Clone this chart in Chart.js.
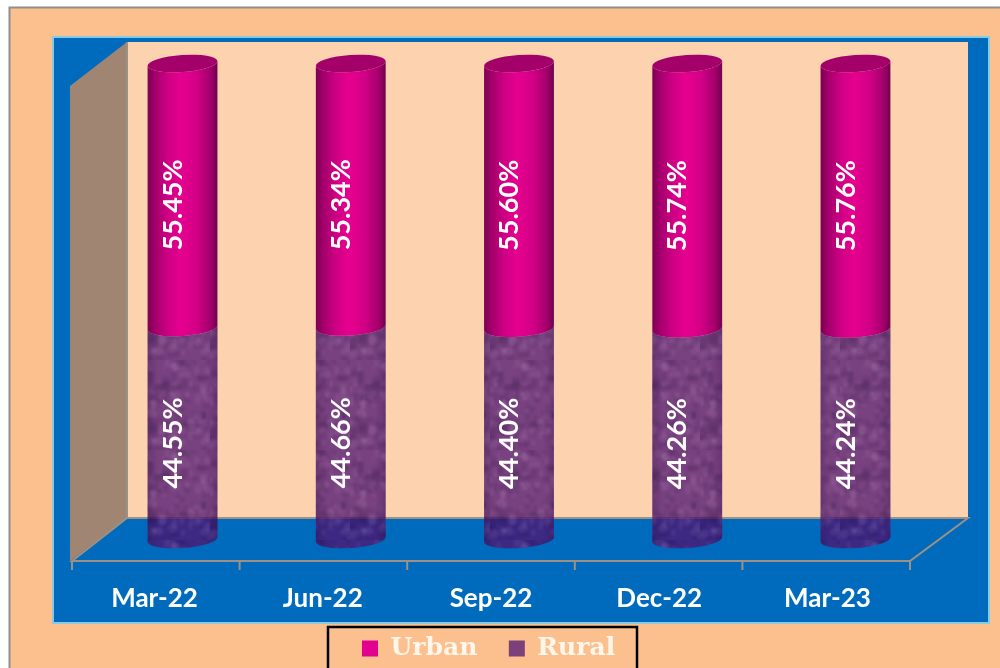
<!DOCTYPE html>
<html lang="en">
<head>
<meta charset="UTF-8">
<title>Urban / Rural share</title>
<script src="https://cdn.jsdelivr.net/npm/chart.js"></script>
<style>
    html, body { margin: 0; padding: 0; background: #fff; overflow: hidden; }
    canvas { display: block; }
</style>
</head>
<body>
<canvas id="grafico" width="1000" height="668"></canvas>

<script>
// data
const categorias = ['Mar-22', 'Jun-22', 'Sep-22', 'Dec-22', 'Mar-23'];
const urban = [55.45, 55.34, 55.60, 55.74, 55.76];
const rural = [44.55, 44.66, 44.40, 44.26, 44.24];

const corPagina = '#fbc08e';
const corAzul = '#006bbd';
const corParede = '#fdd2ae';
const corLateral = '#a08672';
const corLinha = '#9c9184';
const corBorda = '#85cbe4';
const RAIO_Y = 8.5;
const INCLINA = -4 * Math.PI / 180;

// mottled texture for the rural cylinders
function criarTextura(ctx) {
    const c = document.createElement('canvas');
    c.width = 70;
    c.height = 90;
    const t = c.getContext('2d');
    t.filter = 'blur(1.5px)';
    let s = 17;
    const prox = () => (s = (s * 137 + 59) % 1009) / 1009;
    for (let i = 0; i < 260; i++) {
        t.fillStyle = i % 2 ? 'rgba(255,220,255,0.04)' : 'rgba(20,0,50,0.05)';
        t.beginPath();
        t.ellipse(prox() * 70, prox() * 90, 2 + prox() * 4, 2 + prox() * 4, 0, 0, Math.PI * 2);
        t.fill();
    }
    return ctx.createPattern(c, 'repeat');
}

// body of a cylinder: front arc at the base, front arc at the top
function corpo(ctx, b) {
    const rx = b.width / 2;
    ctx.beginPath();
    ctx.ellipse(b.x, b.base, rx, RAIO_Y, INCLINA, 0, Math.PI);
    ctx.ellipse(b.x, b.y, rx, RAIO_Y, INCLINA, Math.PI, 0, true);
    ctx.closePath();
}

function sombra(ctx, x, rx, stops) {
    const g = ctx.createLinearGradient(x - rx, 0, x + rx, 0);
    stops.forEach(p => g.addColorStop(p[0], p[1]));
    return g;
}

const cilindros = {
    id: 'cilindros',
    beforeDatasetDraw(chart, args) {
        const ctx = chart.ctx;
        const eRural = chart.data.datasets[args.index].label === 'Rural';
        if (!chart.$textura) chart.$textura = criarTextura(ctx);
        args.meta.data.forEach(b => {
            const rx = b.width / 2;
            ctx.save();
            corpo(ctx, b);
            if (eRural) {
                ctx.fillStyle = b.options.backgroundColor;
                ctx.fill();
                ctx.fillStyle = chart.$textura;
                ctx.fill();
                ctx.fillStyle = sombra(ctx, b.x, rx, [[0, 'rgba(30,0,50,0.22)'], [0.15, 'rgba(30,0,50,0.05)'], [0.85, 'rgba(30,0,50,0.05)'], [1, 'rgba(30,0,50,0.22)']]);
                ctx.fill();
            } else {
                ctx.fillStyle = sombra(ctx, b.x, rx, [[0, '#7c0053'], [0.13, '#a9006f'], [0.3, '#d00085'], [0.48, '#e6008f'], [0.7, '#d20086'], [0.9, '#a3006c'], [1, '#6f004b']]);
                ctx.fill();
                // tampa
                ctx.beginPath();
                ctx.ellipse(b.x, b.y, rx, RAIO_Y, INCLINA, 0, Math.PI * 2);
                ctx.fillStyle = '#a4006a';
                ctx.fill();
            }
            ctx.restore();
        });
        return false;
    },
    afterDatasetsDraw(chart) {
        const ctx = chart.ctx;
        ctx.save();
        ctx.fillStyle = '#fff';
        ctx.font = 'bold 27px Lato';
        ctx.textAlign = 'center';
        ctx.textBaseline = 'middle';
        chart.data.datasets.forEach((ds, i) => {
            chart.getDatasetMeta(i).data.forEach((b, j) => {
                ctx.save();
                ctx.translate(b.x - 9.5, (b.y + b.base) / 2 + 9.5);
                ctx.rotate(-Math.PI / 2);
                ctx.fillText(ds.data[j].toFixed(2) + '%', 0, 0);
                ctx.restore();
            });
        });
        ctx.restore();
    }
};

// page, panel and 3D walls behind the plot
const cenario = {
    id: 'cenario',
    afterLayout(chart) {
        chart.legend.left = 330.5;
        chart.legend.top += 3;
        // the tick labels sit lower than the axis box, keep them out of its clip
        chart.scales.x.bottom = 622;
    },
    beforeDraw(chart) {
        const ctx = chart.ctx;
        const a = chart.chartArea;
        const paredeTopo = 42, paredeFim = a.bottom - 21.5, frente = a.bottom + 21.5;
        const paredeEsq = 127, paredeDir = 968, frenteEsq = 72, frenteDir = 910;

        ctx.save();
        ctx.fillStyle = '#fff';
        ctx.fillRect(0, 0, chart.width, chart.height);

        ctx.fillStyle = corPagina;
        ctx.fillRect(9, 7, chart.width - 9, chart.height - 7);
        ctx.strokeStyle = '#8e8e8e';
        ctx.lineWidth = 2;
        ctx.beginPath();
        ctx.moveTo(9.5, chart.height);
        ctx.lineTo(9.5, 7.5);
        ctx.lineTo(chart.width, 7.5);
        ctx.stroke();

        ctx.fillStyle = corAzul;
        ctx.fillRect(53, 37, 936, 586);
        ctx.strokeStyle = corBorda;
        ctx.strokeRect(53, 37, 936, 586);

        ctx.fillStyle = corParede;
        ctx.fillRect(paredeEsq, paredeTopo, paredeDir - paredeEsq, paredeFim - paredeTopo);

        ctx.fillStyle = corLateral;
        ctx.beginPath();
        ctx.moveTo(paredeEsq, paredeTopo);
        ctx.lineTo(70, 86);
        ctx.lineTo(70, frente);
        ctx.lineTo(paredeEsq, paredeFim);
        ctx.closePath();
        ctx.fill();

        ctx.strokeStyle = corLinha;
        ctx.beginPath();
        ctx.moveTo(paredeEsq, paredeTopo);
        ctx.lineTo(paredeEsq, paredeFim);
        ctx.lineTo(paredeDir, paredeFim);
        ctx.lineTo(frenteDir, frente);
        ctx.lineTo(frenteEsq, frente);
        ctx.lineTo(paredeEsq, paredeFim);
        const n = categorias.length;
        for (let i = 0; i <= n; i++) {
            const x = frenteEsq + (frenteDir - frenteEsq) * i / n;
            ctx.moveTo(x, frente);
            ctx.lineTo(x, frente + 9);
        }
        ctx.stroke();

        // legend frame
        ctx.strokeStyle = '#000';
        ctx.lineWidth = 2.5;
        ctx.strokeRect(328, 627, 309, 44);
        ctx.restore();
    }
};

const grafico = new Chart(document.getElementById('grafico'), {
    type: 'bar',
    data: {
        labels: categorias,
        datasets: [
            { label: 'Rural', data: rural, backgroundColor: 'rgba(83,22,117,0.755)' },
            { label: 'Urban', data: urban, backgroundColor: '#e2008f' }
        ]
    },
    options: {
        responsive: false,
        animation: false,
        barPercentage: 1,
        categoryPercentage: 0.416,
        layout: { padding: { left: 98.4, right: 60.4, top: 63.5, bottom: 0 } },
        plugins: {
            tooltip: { enabled: false },
            legend: {
                position: 'bottom',
                align: 'start',
                labels: {
                    boxWidth: 16,
                    boxHeight: 16,
                    padding: 31.5,
                    color: '#fff6ec',
                    font: { family: 'DejaVu Serif', weight: 'bold', size: 25 },
                    sort: (a, b) => b.datasetIndex - a.datasetIndex
                }
            }
        },
        scales: {
            x: {
                stacked: true,
                afterFit: s => { s.height = 62; },
                grid: { display: false },
                border: { display: false },
                ticks: {
                    labelOffset: -28,
                    padding: 36,
                    maxRotation: 0,
                    color: '#fff',
                    font: { family: 'Lato', weight: 'bold', size: 26 }
                }
            },
            y: { stacked: true, display: false, min: 0, max: 100 }
        }
    },
    plugins: [cenario, cilindros]
});
</script>
</body>
</html>
